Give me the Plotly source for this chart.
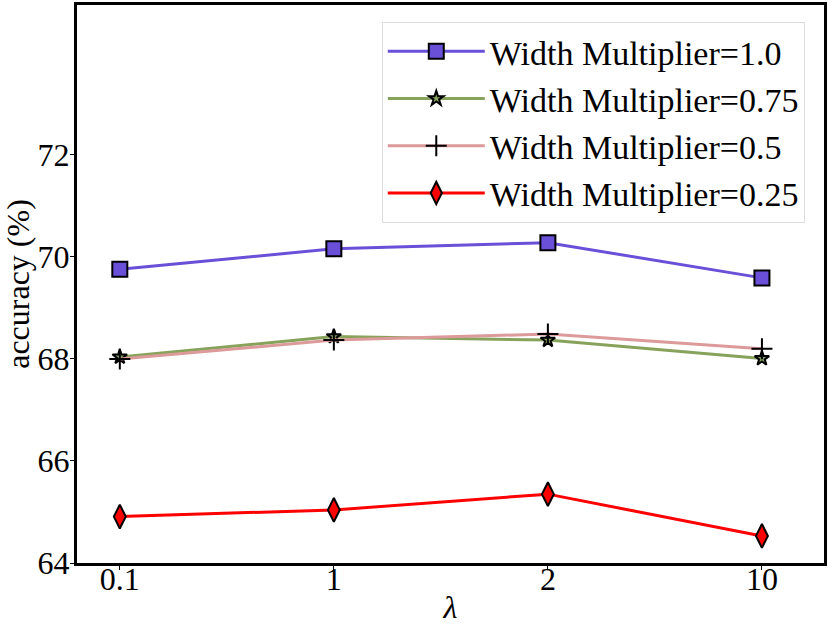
import plotly.graph_objects as go

lambdas = ["0.1", "1", "2", "10"]
wm_100 = [69.76, 70.16, 70.28, 69.59]
wm_075 = [68.04, 68.44, 68.37, 68.01]
wm_050 = [68.00, 68.37, 68.49, 68.20]
wm_025 = [64.91, 65.04, 65.35, 64.53]
y_ticks = [64, 66, 68, 70, 72]

FONT = "Liberation Serif"

fig = go.Figure()
fig.add_trace(go.Scatter(
    x=lambdas, y=wm_100, mode="lines+markers", name="Width Multiplier=1.0",
    line=dict(color="#6a4fd8", width=3),
    marker=dict(symbol="square", size=15, color="#6a4fd8", line=dict(color="black", width=2))))
fig.add_trace(go.Scatter(
    x=lambdas, y=wm_075, mode="lines+markers", name="Width Multiplier=0.75",
    line=dict(color="#87a35b", width=3),
    marker=dict(symbol="star", size=11, color="#87a35b", line=dict(color="black", width=2))))
fig.add_trace(go.Scatter(
    x=lambdas, y=wm_050, mode="lines+markers", name="Width Multiplier=0.5",
    line=dict(color="#dc9a9a", width=3),
    marker=dict(symbol="cross-thin", size=15, color="black", line=dict(color="black", width=2))))
fig.add_trace(go.Scatter(
    x=lambdas, y=wm_025, mode="lines+markers", name="Width Multiplier=0.25",
    line=dict(color="#ff0000", width=3),
    marker=dict(symbol="diamond-tall", size=17, color="#ff0000", line=dict(color="black", width=2))))

fig.update_layout(
    width=830, height=629,
    margin=dict(l=77, r=6, t=5, b=66),
    paper_bgcolor="white", plot_bgcolor="white",
    font=dict(family=FONT, size=32, color="black"),
    legend=dict(x=0.408, y=0.97, xanchor="left", yanchor="top",
                bgcolor="white", bordercolor="#dddddd", borderwidth=1,
                font=dict(family=FONT, size=34), itemwidth=97,
                tracegroupgap=0),
    xaxis=dict(type="category", range=[-0.2, 3.29], showgrid=False, zeroline=False,
               showline=True, linecolor="black", linewidth=3, mirror=True,
               ticks="outside", ticklen=4, tickwidth=1, tickcolor="black",
               tickfont=dict(family=FONT, size=32), automargin=False,
               ticklabelstandoff=-18,
               title=dict(text="<i>λ</i>", font=dict(family=FONT, size=32), standoff=0)),
    yaxis=dict(range=[64, 74.94], showgrid=False, zeroline=False,
               showline=True, linecolor="black", linewidth=3, mirror=True,
               ticks="outside", ticklen=4, tickwidth=1, tickcolor="black",
               tickvals=y_ticks, ticktext=[str(v) for v in y_ticks],
               tickfont=dict(family=FONT, size=32), automargin=False,
               ticklabelstandoff=-6,
               title=dict(text="accuracy (%)", font=dict(family=FONT, size=32), standoff=2)),
)

fig.write_html("out.html", config={"displayModeBar": False},
               post_script="document.body.style.margin='0';")
